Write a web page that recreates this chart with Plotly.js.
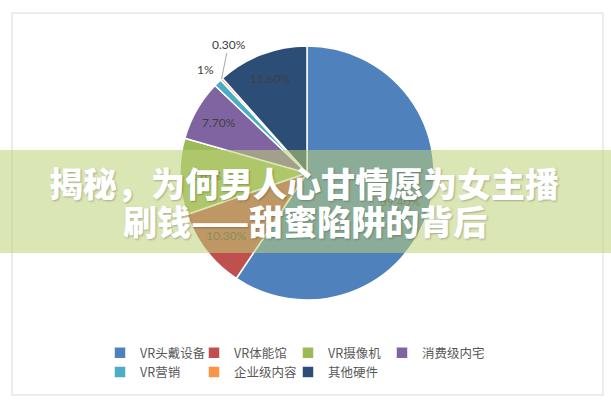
<!DOCTYPE html>
<html>
<head>
<meta charset="utf-8">
<script src="https://cdn.plot.ly/plotly-3.0.1.min.js"></script>
<style>html,body{margin:0;padding:0;background:#fff;}#chart{width:611px;height:405px;}</style>
</head>
<body>
<div id="chart"></div>
<script>
// ---- data ----
var categories = ['VR头戴设备', 'VR体能馆', 'VR摄像机', '消费级内宅', 'VR营销', '企业级内容', '其他硬件'];
var shares = [59.4, 10.3, 9.7, 7.7, 1.0, 0.3, 11.6];
var shareLabels = ['59.40%', '10.30%', '9.70%', '7.70%', '1%', '0.30%', '11.60%'];
var sliceColors = ['#4F81BD', '#C0504D', '#9BBB59', '#8064A2', '#4BACC6', '#F79646', '#2C4D75'];
var bannerLines = ['揭秘，为何男人心甘情愿为女主播', '刷钱——甜蜜陷阱的背后'];

// ---- layout geometry (pixels) ----
var W = 611, H = 405;
var M = {l: 100, r: 100, t: 0, b: 0};
var PW = W - M.l - M.r, PH = H - M.t - M.b;
var cx = 307, cy = 173, R = 127;
var bannerTop = 150, bannerBottom = 253;
var bannerRGB = [190, 210, 120], bannerAlpha = 0.55;
var labelRGB = [64, 64, 64];
function px(x) { return (x - M.l) / PW; }
function py(y) { return (H - M.b - y) / PH; }
function labelColor(y) {
  if (y < bannerTop || y > bannerBottom) return 'rgb(' + labelRGB.join(',') + ')';
  var c = labelRGB.map(function (v, k) { return Math.round(bannerAlpha * bannerRGB[k] + (1 - bannerAlpha) * v); });
  return 'rgb(' + c.join(',') + ')';
}

var total = shares.reduce(function (a, b) { return a + b; }, 0);
var annotations = [];
var cum = 0;
shares.forEach(function (v, i) {
  var mid = (cum + v / 2) / total * 2 * Math.PI;
  cum += v;
  var pct = v / total;
  var rf, ax = 0, ay = 0, arrow = false;
  if (pct >= 0.03) rf = pct > 0.5 ? 0.77 : 0.8;       // inside labels
  else if (pct >= 0.01) rf = 1.14;                      // just outside
  else { rf = 1.0; arrow = true; ax = 7; ay = -35; }    // with leader line
  var lx = cx + R * rf * Math.sin(mid), ly = cy - R * rf * Math.cos(mid);
  var a = {
    x: px(lx), y: py(ly), xref: 'paper', yref: 'paper', text: shareLabels[i],
    xanchor: 'center', yanchor: 'middle', showarrow: arrow,
    font: {family: 'Lato, "Noto Sans", sans-serif', size: 12, color: labelColor(ly + ay)}
  };
  if (arrow) { a.arrowhead = 0; a.arrowwidth = 1; a.arrowcolor = '#a6a6a6'; a.ax = ax; a.ay = ay; }
  annotations.push(a);
});

// banner text
var bannerFont = {family: '"Noto Sans CJK SC", sans-serif', size: 34, color: '#ffffff', weight: 900,
                  shadow: '1px 1px 2px rgba(0,0,0,0.25)'};
annotations.push({x: px(304), y: py(182), xref: 'paper', yref: 'paper', xanchor: 'center', yanchor: 'middle',
                  text: bannerLines[0], showarrow: false, font: bannerFont});
annotations.push({x: px(305), y: py(221), xref: 'paper', yref: 'paper', xanchor: 'center', yanchor: 'middle',
                  text: bannerLines[1], showarrow: false, font: bannerFont});

var trace = {
  type: 'pie',
  labels: categories,
  values: shares,
  textinfo: 'none',
  sort: false,
  direction: 'clockwise',
  rotation: 0,
  marker: {colors: sliceColors, line: {color: '#ffffff', width: 1.5}},
  domain: {x: [px(cx - R), px(cx + R)], y: [py(cy + R), py(cy - R)]},
  hoverinfo: 'label+percent'
};

var layout = {
  width: W, height: H,
  margin: M,
  paper_bgcolor: '#ffffff',
  showlegend: true,
  legend: {
    orientation: 'h', x: px(100), xanchor: 'left', y: py(338), yanchor: 'top',
    entrywidth: 49, entrywidthmode: 'pixels',
    font: {family: '"Noto Sans CJK SC", sans-serif', size: 12.5, color: '#595959'},
    bgcolor: 'rgba(0,0,0,0)', traceorder: 'normal'
  },
  shapes: [
    {type: 'rect', xref: 'paper', yref: 'paper', x0: px(12), x1: px(603), y0: py(395), y1: py(13),
     line: {color: '#d9d9d9', width: 1}, fillcolor: 'rgba(0,0,0,0)', layer: 'below'},
    {type: 'rect', xref: 'paper', yref: 'paper', x0: px(0), x1: px(611), y0: py(bannerBottom), y1: py(bannerTop),
     line: {width: 0}, fillcolor: 'rgba(' + bannerRGB.join(',') + ',' + bannerAlpha + ')', layer: 'above'}
  ],
  annotations: annotations
};

Plotly.newPlot('chart', [trace], layout, {displayModeBar: false, staticPlot: true}).then(function (gd) {
  // let the last legend column's text show in full
  gd.querySelectorAll('.legend .scrollbox, .legend').forEach(function (el) { el.removeAttribute('clip-path'); });
});
</script>
</body>
</html>
